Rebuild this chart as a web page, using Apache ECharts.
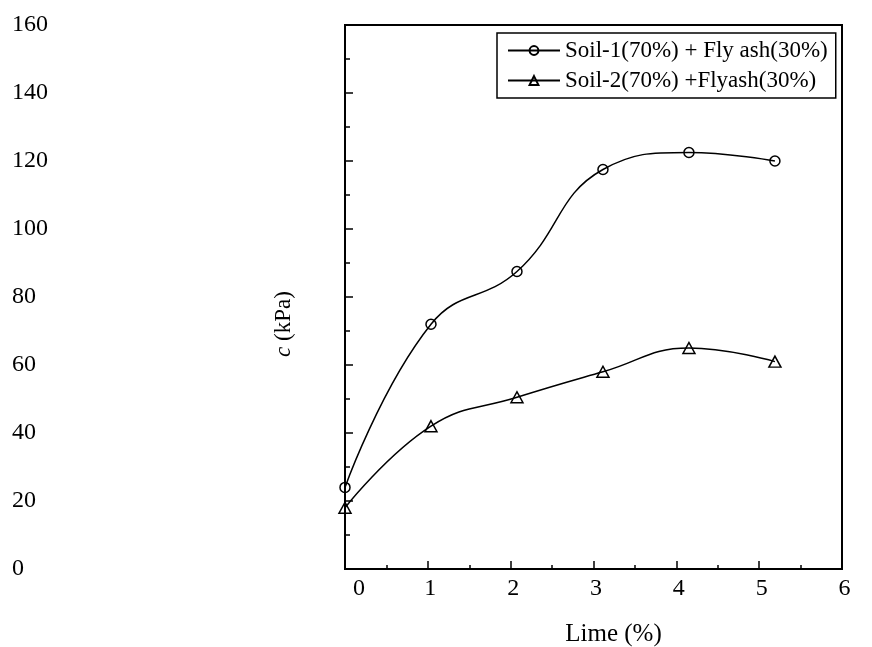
<!DOCTYPE html>
<html>
<head>
<meta charset="utf-8">
<script src="https://cdn.jsdelivr.net/npm/echarts@6/dist/echarts.min.js"></script>
<style>
  html, body { margin: 0; padding: 0; background: #fff; }
  #chart { width: 872px; height: 647px; }
</style>
</head>
<body>
<div id="chart"></div>
<script>
// Cohesion c (kPa) against lime content for two soil / fly-ash mixes
const lime = [0, 1, 2, 3, 4, 5];
const soil1 = [24, 72, 87.5, 117.5, 122.5, 120];
const soil2 = [18, 42, 50.5, 58, 65, 61];
const seriesNames = ['Soil-1(70%) + Fly ash(30%)', 'Soil-2(70%) +Flyash(30%)'];
const yTicks = [0, 20, 40, 60, 80, 100, 120, 140, 160];
const xTicks = [0, 1, 2, 3, 4, 5, 6];

const FONT = 'Liberation Serif';
const BLACK = '#000';

const toPairs = (xs, ys) => xs.map((x, i) => [x, ys[i]]);

const chart = echarts.init(document.getElementById('chart'), null, { renderer: 'canvas' });

chart.setOption({
  animation: false,
  backgroundColor: '#fff',
  grid: {
    left: 345, right: 30, top: 25, bottom: 78,
    outerBoundsMode: 'none',
    containLabel: false,
    show: true, borderColor: BLACK, borderWidth: 2, backgroundColor: 'transparent'
  },
  legend: {
    orient: 'vertical',
    left: 497, top: 33,
    padding: [6, 8, 6, 10],
    itemGap: 7,
    itemWidth: 52, itemHeight: 11,
    borderColor: BLACK, borderWidth: 1.5,
    backgroundColor: '#fff',
    textStyle: { fontFamily: FONT, fontSize: 23, color: BLACK },
    data: seriesNames
  },
  xAxis: [
    {
      type: 'value',
      min: xTicks[0], max: xTicks[xTicks.length - 1], interval: 1,
      name: 'Lime (%)',
      nameLocation: 'middle',
      nameGap: 53,
      nameMoveOverlap: false,
      nameTextStyle: { fontFamily: FONT, fontSize: 25, color: BLACK, padding: [0, 0, 0, 40] },
      axisLine: { show: true, lineStyle: { color: BLACK, width: 2 } },
      axisTick: { show: true, inside: true, length: 8, lineStyle: { color: BLACK, width: 1.5 } },
      minorTick: { show: true, splitNumber: 2, length: 4, lineStyle: { color: BLACK, width: 1.5 } },
      splitLine: { show: false },
      axisLabel: {
        margin: 8,
        fontFamily: FONT, fontSize: 24, color: BLACK,
        formatter: v => (v === 0 ? '{z|0}' : '{n|' + v + '}'),
        rich: {
          z: { fontFamily: FONT, fontSize: 24, color: BLACK, padding: [0, 0, 0, 28] },
          n: { fontFamily: FONT, fontSize: 24, color: BLACK, padding: [0, 0, 0, 5] }
        }
      }
    },
    {
      // plotting scale for the measured points
      type: 'value',
      min: 0, max: 5.78,
      show: false,
      position: 'bottom',
      axisLine: { show: false }, axisTick: { show: false }, axisLabel: { show: false },
      splitLine: { show: false }
    }
  ],
  yAxis: {
    type: 'value',
    min: yTicks[0], max: yTicks[yTicks.length - 1], interval: 20,
    name: '{i|c} (kPa)',
    nameLocation: 'middle',
    nameRotate: 90,
    nameGap: 50,
    nameMoveOverlap: false,
    nameTextStyle: {
      fontFamily: FONT, fontSize: 23, color: BLACK, padding: [0, 54, 0, 0],
      rich: { i: { fontFamily: FONT, fontSize: 23, fontStyle: 'italic', color: BLACK } }
    },
    axisLine: { show: true, lineStyle: { color: BLACK, width: 2 } },
    axisTick: { show: true, inside: true, length: 8, lineStyle: { color: BLACK, width: 1.5 } },
    minorTick: { show: true, splitNumber: 2, length: 5, lineStyle: { color: BLACK, width: 1.5 } },
    splitLine: { show: false },
    axisLabel: {
      margin: 333,
      align: 'left',
      fontFamily: FONT, fontSize: 24, color: BLACK
    }
  },
  series: [
    {
      name: seriesNames[0],
      type: 'line',
      xAxisIndex: 1,
      data: toPairs(lime, soil1),
      smooth: 0.45,
      symbol: 'circle',
      symbolSize: 10,
      lineStyle: { color: BLACK, width: 1.5 },
      itemStyle: { color: 'rgba(255,255,255,0)', borderColor: BLACK, borderWidth: 1.5 },
      z: 3
    },
    {
      name: seriesNames[1],
      type: 'line',
      xAxisIndex: 1,
      data: toPairs(lime, soil2),
      smooth: 0.45,
      symbol: 'triangle',
      symbolSize: [12, 11],
      lineStyle: { color: BLACK, width: 1.5 },
      itemStyle: { color: 'rgba(255,255,255,0)', borderColor: BLACK, borderWidth: 1.5 },
      z: 3
    }
  ]
});
</script>
</body>
</html>
